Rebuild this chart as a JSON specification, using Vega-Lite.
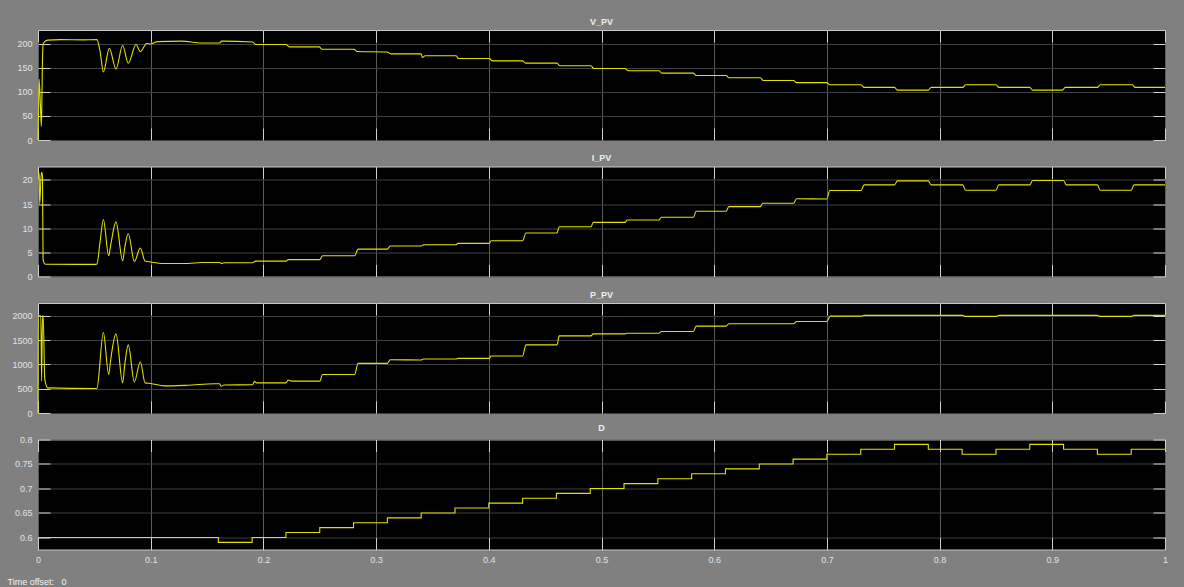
{
  "$schema": "https://vega.github.io/schema/vega-lite/v6.json",
  "background": "#808080",
  "padding": {"left": 6, "top": 17, "right": 25, "bottom": 10},
  "bounds": "flush",
  "spacing": 26.5,
  "datasets": {
    "vpv": [
      {"t": 0, "v": 0}, {"t": 0.0005, "v": 60}, {"t": 0.001, "v": 126}, {"t": 0.002, "v": 80}, {"t": 0.003, "v": 28},
      {"t": 0.0035, "v": 90}, {"t": 0.004, "v": 170}, {"t": 0.0046, "v": 200}, {"t": 0.0086, "v": 207}, {"t": 0.02, "v": 208},
      {"t": 0.04, "v": 207.5}, {"t": 0.0523, "v": 208}, {"t": 0.055, "v": 185}, {"t": 0.058, "v": 141}, {"t": 0.0633, "v": 190},
      {"t": 0.0692, "v": 147}, {"t": 0.0751, "v": 196}, {"t": 0.0801, "v": 159}, {"t": 0.087, "v": 198}, {"t": 0.0908, "v": 183},
      {"t": 0.0964, "v": 200}, {"t": 0.1, "v": 199}, {"t": 0.106, "v": 204}, {"t": 0.127, "v": 205}, {"t": 0.145, "v": 201},
      {"t": 0.161, "v": 201}, {"t": 0.163, "v": 205}, {"t": 0.1905, "v": 203}, {"t": 0.193, "v": 198}, {"t": 0.22, "v": 198},
      {"t": 0.223, "v": 193}, {"t": 0.2495, "v": 193}, {"t": 0.252, "v": 188}, {"t": 0.2806, "v": 188}, {"t": 0.283, "v": 183.4},
      {"t": 0.31, "v": 182.5}, {"t": 0.313, "v": 178.5}, {"t": 0.34, "v": 178.5}, {"t": 0.341, "v": 171}, {"t": 0.3435, "v": 174.5},
      {"t": 0.371, "v": 174.5}, {"t": 0.373, "v": 169}, {"t": 0.4005, "v": 169}, {"t": 0.403, "v": 164}, {"t": 0.43, "v": 164},
      {"t": 0.4325, "v": 159.3}, {"t": 0.4605, "v": 159.3}, {"t": 0.463, "v": 153.8}, {"t": 0.4907, "v": 153.8}, {"t": 0.493, "v": 148.3},
      {"t": 0.521, "v": 148.3}, {"t": 0.5235, "v": 143.4}, {"t": 0.551, "v": 143.4}, {"t": 0.5535, "v": 138.6}, {"t": 0.5815, "v": 138.6},
      {"t": 0.584, "v": 133.8}, {"t": 0.6105, "v": 133.8}, {"t": 0.613, "v": 129}, {"t": 0.641, "v": 129}, {"t": 0.6435, "v": 123.4},
      {"t": 0.6705, "v": 123.4}, {"t": 0.673, "v": 119}, {"t": 0.7, "v": 119}, {"t": 0.7025, "v": 114.5}, {"t": 0.7303, "v": 114.5},
      {"t": 0.733, "v": 109}, {"t": 0.76, "v": 109}, {"t": 0.7625, "v": 103.4}, {"t": 0.79, "v": 103.4}, {"t": 0.7925, "v": 109},
      {"t": 0.8205, "v": 109}, {"t": 0.823, "v": 114.5}, {"t": 0.85, "v": 114.5}, {"t": 0.8525, "v": 109}, {"t": 0.88, "v": 109},
      {"t": 0.8825, "v": 103.4}, {"t": 0.909, "v": 103.4}, {"t": 0.9115, "v": 109}, {"t": 0.94, "v": 109}, {"t": 0.9425, "v": 114.5},
      {"t": 0.971, "v": 114.5}, {"t": 0.9735, "v": 109}, {"t": 1, "v": 109}
    ],
    "ipv": [
      {"t": 0, "v": 22}, {"t": 0.001, "v": 21}, {"t": 0.0015, "v": 15}, {"t": 0.003, "v": 21.5}, {"t": 0.0035, "v": 21.5},
      {"t": 0.004, "v": 20.5}, {"t": 0.0045, "v": 3.6}, {"t": 0.006, "v": 2.6}, {"t": 0.0086, "v": 2.55}, {"t": 0.05, "v": 2.5},
      {"t": 0.0523, "v": 2.6}, {"t": 0.055, "v": 7}, {"t": 0.058, "v": 11.8}, {"t": 0.0627, "v": 4.3}, {"t": 0.0645, "v": 6.5},
      {"t": 0.0692, "v": 11.3}, {"t": 0.0751, "v": 3.25}, {"t": 0.077, "v": 6}, {"t": 0.0801, "v": 8.9}, {"t": 0.0855, "v": 3.1},
      {"t": 0.0908, "v": 5.9}, {"t": 0.095, "v": 3.2}, {"t": 0.1, "v": 3.0}, {"t": 0.112, "v": 2.7}, {"t": 0.133, "v": 2.7},
      {"t": 0.145, "v": 2.9}, {"t": 0.161, "v": 2.9}, {"t": 0.163, "v": 2.7}, {"t": 0.166, "v": 2.85}, {"t": 0.1905, "v": 2.85},
      {"t": 0.193, "v": 3.18}, {"t": 0.22, "v": 3.18}, {"t": 0.222, "v": 3.5}, {"t": 0.25, "v": 3.5}, {"t": 0.2525, "v": 4.3},
      {"t": 0.281, "v": 4.3}, {"t": 0.284, "v": 5.67}, {"t": 0.31, "v": 5.67}, {"t": 0.3125, "v": 6.3}, {"t": 0.34, "v": 6.3},
      {"t": 0.342, "v": 6.57}, {"t": 0.371, "v": 6.57}, {"t": 0.3725, "v": 6.85}, {"t": 0.4005, "v": 6.85}, {"t": 0.402, "v": 7.4},
      {"t": 0.43, "v": 7.4}, {"t": 0.433, "v": 9.0}, {"t": 0.4605, "v": 9.0}, {"t": 0.4625, "v": 10.3}, {"t": 0.4907, "v": 10.3},
      {"t": 0.4926, "v": 11.2}, {"t": 0.521, "v": 11.2}, {"t": 0.5226, "v": 11.7}, {"t": 0.551, "v": 11.7}, {"t": 0.553, "v": 12.25},
      {"t": 0.5815, "v": 12.25}, {"t": 0.584, "v": 13.5}, {"t": 0.6105, "v": 13.5}, {"t": 0.613, "v": 14.46}, {"t": 0.641, "v": 14.46},
      {"t": 0.643, "v": 15.16}, {"t": 0.6705, "v": 15.16}, {"t": 0.673, "v": 16.1}, {"t": 0.7, "v": 16.05}, {"t": 0.7025, "v": 17.8},
      {"t": 0.7303, "v": 17.8}, {"t": 0.733, "v": 18.96}, {"t": 0.76, "v": 18.96}, {"t": 0.7625, "v": 19.8}, {"t": 0.79, "v": 19.8},
      {"t": 0.7925, "v": 18.96}, {"t": 0.8205, "v": 18.96}, {"t": 0.823, "v": 17.85}, {"t": 0.85, "v": 17.85}, {"t": 0.8525, "v": 18.96},
      {"t": 0.88, "v": 18.96}, {"t": 0.8825, "v": 19.86}, {"t": 0.91, "v": 19.86}, {"t": 0.9125, "v": 18.96}, {"t": 0.94, "v": 18.96},
      {"t": 0.9425, "v": 17.85}, {"t": 0.97, "v": 17.85}, {"t": 0.9725, "v": 18.96}, {"t": 1, "v": 18.96}
    ],
    "ppv": [
      {"t": 0, "v": 0}, {"t": 0.0003, "v": 2000}, {"t": 0.0025, "v": 2000}, {"t": 0.0032, "v": 655}, {"t": 0.004, "v": 2000},
      {"t": 0.0046, "v": 2000}, {"t": 0.006, "v": 700}, {"t": 0.0086, "v": 517}, {"t": 0.05, "v": 503}, {"t": 0.0523, "v": 510},
      {"t": 0.058, "v": 1655}, {"t": 0.0627, "v": 793}, {"t": 0.0645, "v": 1100}, {"t": 0.0692, "v": 1627}, {"t": 0.0751, "v": 620},
      {"t": 0.077, "v": 1000}, {"t": 0.0801, "v": 1400}, {"t": 0.0855, "v": 641}, {"t": 0.0908, "v": 1055}, {"t": 0.095, "v": 620},
      {"t": 0.1, "v": 607}, {"t": 0.112, "v": 558}, {"t": 0.133, "v": 572}, {"t": 0.157, "v": 600}, {"t": 0.161, "v": 600},
      {"t": 0.1625, "v": 550}, {"t": 0.165, "v": 575}, {"t": 0.1905, "v": 580}, {"t": 0.192, "v": 650}, {"t": 0.194, "v": 620},
      {"t": 0.22, "v": 620}, {"t": 0.222, "v": 680}, {"t": 0.225, "v": 655}, {"t": 0.25, "v": 655}, {"t": 0.2525, "v": 793},
      {"t": 0.281, "v": 793}, {"t": 0.284, "v": 1020}, {"t": 0.31, "v": 1020}, {"t": 0.3125, "v": 1096}, {"t": 0.34, "v": 1090},
      {"t": 0.342, "v": 1110}, {"t": 0.371, "v": 1110}, {"t": 0.3725, "v": 1124}, {"t": 0.4005, "v": 1124}, {"t": 0.402, "v": 1172},
      {"t": 0.43, "v": 1172}, {"t": 0.433, "v": 1400}, {"t": 0.4605, "v": 1400}, {"t": 0.4625, "v": 1586}, {"t": 0.4907, "v": 1586},
      {"t": 0.4926, "v": 1628}, {"t": 0.521, "v": 1628}, {"t": 0.5226, "v": 1641}, {"t": 0.551, "v": 1641}, {"t": 0.553, "v": 1676},
      {"t": 0.5815, "v": 1676}, {"t": 0.584, "v": 1786}, {"t": 0.6105, "v": 1786}, {"t": 0.613, "v": 1834}, {"t": 0.6705, "v": 1834},
      {"t": 0.673, "v": 1883}, {"t": 0.7, "v": 1883}, {"t": 0.703, "v": 1993}, {"t": 0.7303, "v": 1993}, {"t": 0.733, "v": 2007},
      {"t": 0.8205, "v": 2007}, {"t": 0.823, "v": 1986}, {"t": 0.85, "v": 1986}, {"t": 0.8525, "v": 2007}, {"t": 0.94, "v": 2007},
      {"t": 0.9425, "v": 1986}, {"t": 0.97, "v": 1986}, {"t": 0.9725, "v": 2007}, {"t": 1, "v": 2007}
    ],
    "duty": [
      {"t": 0, "v": 0.6}, {"t": 0.16, "v": 0.59}, {"t": 0.19, "v": 0.6}, {"t": 0.22, "v": 0.61}, {"t": 0.25, "v": 0.62},
      {"t": 0.28, "v": 0.63}, {"t": 0.31, "v": 0.64}, {"t": 0.34, "v": 0.65}, {"t": 0.37, "v": 0.66}, {"t": 0.4, "v": 0.67},
      {"t": 0.43, "v": 0.68}, {"t": 0.46, "v": 0.69}, {"t": 0.49, "v": 0.7}, {"t": 0.52, "v": 0.71}, {"t": 0.55, "v": 0.72},
      {"t": 0.58, "v": 0.73}, {"t": 0.61, "v": 0.74}, {"t": 0.64, "v": 0.75}, {"t": 0.67, "v": 0.76}, {"t": 0.7, "v": 0.77},
      {"t": 0.73, "v": 0.78}, {"t": 0.76, "v": 0.79}, {"t": 0.79, "v": 0.78}, {"t": 0.82, "v": 0.77}, {"t": 0.85, "v": 0.78},
      {"t": 0.88, "v": 0.79}, {"t": 0.91, "v": 0.78}, {"t": 0.94, "v": 0.77}, {"t": 0.97, "v": 0.78}, {"t": 1, "v": 0.78}
    ]
  },
  "vconcat": [
    {
      "title": "V_PV",
      "width": 1127, "height": 110,
      "data": {"name": "vpv"},
      "layer": [
        {"mark": {"type": "line", "color": "#e2e200", "strokeWidth": 1.1, "interpolate": "monotone"},
         "encoding": {
           "x": {"field": "t", "type": "quantitative", "scale": {"domain": [0, 1], "nice": false, "zero": false},
                 "axis": {"values": [0, 0.1, 0.2, 0.3, 0.4, 0.5, 0.6, 0.7, 0.8, 0.9, 1], "labels": false, "title": null}},
           "y": {"field": "v", "type": "quantitative", "scale": {"domain": [0, 228], "nice": false},
                 "axis": {"values": [0, 50, 100, 150, 200], "title": null, "format": "~f"}}
         }},
        {"mark": {"type": "line", "opacity": 0},
         "encoding": {
           "x": {"field": "t", "type": "quantitative", "scale": {"domain": [0, 1], "nice": false, "zero": false},
                 "axis": {"orient": "top", "values": [0, 0.1, 0.2, 0.3, 0.4, 0.5, 0.6, 0.7, 0.8, 0.9, 1], "labels": false, "grid": false, "title": null}},
           "y": {"field": "v", "type": "quantitative", "scale": {"domain": [0, 228], "nice": false},
                 "axis": {"orient": "right", "values": [0, 50, 100, 150, 200], "labels": false, "grid": false, "title": null}}
         }}
      ],
      "resolve": {"axis": {"x": "independent", "y": "independent"}}
    },
    {
      "title": "I_PV",
      "width": 1127, "height": 110,
      "data": {"name": "ipv"},
      "layer": [
        {"mark": {"type": "line", "color": "#e2e200", "strokeWidth": 1.1, "interpolate": "monotone"},
         "encoding": {
           "x": {"field": "t", "type": "quantitative", "scale": {"domain": [0, 1], "nice": false, "zero": false},
                 "axis": {"values": [0, 0.1, 0.2, 0.3, 0.4, 0.5, 0.6, 0.7, 0.8, 0.9, 1], "labels": false, "title": null}},
           "y": {"field": "v", "type": "quantitative", "scale": {"domain": [0, 22.77], "nice": false},
                 "axis": {"values": [0, 5, 10, 15, 20], "title": null, "format": "~f"}}
         }},
        {"mark": {"type": "line", "opacity": 0},
         "encoding": {
           "x": {"field": "t", "type": "quantitative", "scale": {"domain": [0, 1], "nice": false, "zero": false},
                 "axis": {"orient": "top", "values": [0, 0.1, 0.2, 0.3, 0.4, 0.5, 0.6, 0.7, 0.8, 0.9, 1], "labels": false, "grid": false, "title": null}},
           "y": {"field": "v", "type": "quantitative", "scale": {"domain": [0, 22.77], "nice": false},
                 "axis": {"orient": "right", "values": [0, 5, 10, 15, 20], "labels": false, "grid": false, "title": null}}
         }}
      ],
      "resolve": {"axis": {"x": "independent", "y": "independent"}}
    },
    {
      "title": "P_PV",
      "width": 1127, "height": 110,
      "data": {"name": "ppv"},
      "layer": [
        {"mark": {"type": "line", "color": "#e2e200", "strokeWidth": 1.1, "interpolate": "monotone"},
         "encoding": {
           "x": {"field": "t", "type": "quantitative", "scale": {"domain": [0, 1], "nice": false, "zero": false},
                 "axis": {"values": [0, 0.1, 0.2, 0.3, 0.4, 0.5, 0.6, 0.7, 0.8, 0.9, 1], "labels": false, "title": null}},
           "y": {"field": "v", "type": "quantitative", "scale": {"domain": [0, 2262], "nice": false},
                 "axis": {"values": [0, 500, 1000, 1500, 2000], "title": null, "format": "~f"}}
         }},
        {"mark": {"type": "line", "opacity": 0},
         "encoding": {
           "x": {"field": "t", "type": "quantitative", "scale": {"domain": [0, 1], "nice": false, "zero": false},
                 "axis": {"orient": "top", "values": [0, 0.1, 0.2, 0.3, 0.4, 0.5, 0.6, 0.7, 0.8, 0.9, 1], "labels": false, "grid": false, "title": null}},
           "y": {"field": "v", "type": "quantitative", "scale": {"domain": [0, 2262], "nice": false},
                 "axis": {"orient": "right", "values": [0, 500, 1000, 1500, 2000], "labels": false, "grid": false, "title": null}}
         }}
      ],
      "resolve": {"axis": {"x": "independent", "y": "independent"}}
    },
    {
      "title": "D",
      "width": 1127, "height": 110,
      "data": {"name": "duty"},
      "layer": [
        {"mark": {"type": "line", "color": "#e2e200", "strokeWidth": 1.1, "interpolate": "step-after"},
         "encoding": {
           "x": {"field": "t", "type": "quantitative", "scale": {"domain": [0, 1], "nice": false, "zero": false},
                 "axis": {"values": [0, 0.1, 0.2, 0.3, 0.4, 0.5, 0.6, 0.7, 0.8, 0.9, 1], "format": "~f",
                          "title": "Time offset:\u00a0\u00a0\u00a00", "titleX": -31, "titleY": 32, "titleAlign": "left", "titleBaseline": "middle",
                          "titleFontWeight": "normal", "titleFontSize": 9, "titleColor": "#f2f2f2", "titleFont": "Liberation Sans"}},
           "y": {"field": "v", "type": "quantitative", "scale": {"domain": [0.5754, 0.8], "nice": false, "zero": false},
                 "axis": {"values": [0.6, 0.65, 0.7, 0.75, 0.8], "title": null, "format": "~f"}}
         }},
        {"mark": {"type": "line", "opacity": 0, "interpolate": "step-after"},
         "encoding": {
           "x": {"field": "t", "type": "quantitative", "scale": {"domain": [0, 1], "nice": false, "zero": false},
                 "axis": {"orient": "top", "values": [0, 0.1, 0.2, 0.3, 0.4, 0.5, 0.6, 0.7, 0.8, 0.9, 1], "labels": false, "grid": false, "title": null}},
           "y": {"field": "v", "type": "quantitative", "scale": {"domain": [0.5754, 0.8], "nice": false, "zero": false},
                 "axis": {"orient": "right", "values": [0.6, 0.65, 0.7, 0.75, 0.8], "labels": false, "grid": false, "title": null}}
         }}
      ],
      "resolve": {"axis": {"x": "independent", "y": "independent"}}
    }
  ],
  "config": {
    "view": {"fill": "#000000", "stroke": "#c8c8c8", "strokeWidth": 1},
    "axis": {
      "domain": false,
      "labelFont": "Liberation Sans", "labelFontSize": 9, "labelColor": "#e2e2e2",
      "tickColor": "#d0d0d0", "tickSize": -12, "tickWidth": 1,
      "labelFlush": false, "labelOverlap": false
    },
    "axisX": {"gridColor": "#5c5c5c", "gridWidth": 1, "labelPadding": 17.5},
    "axisY": {"gridColor": "#404040", "gridWidth": 1, "labelPadding": 18},
    "title": {"font": "Liberation Sans", "fontSize": 9, "fontWeight": "bold", "color": "#eeeeee", "offset": 3}
  }
}
